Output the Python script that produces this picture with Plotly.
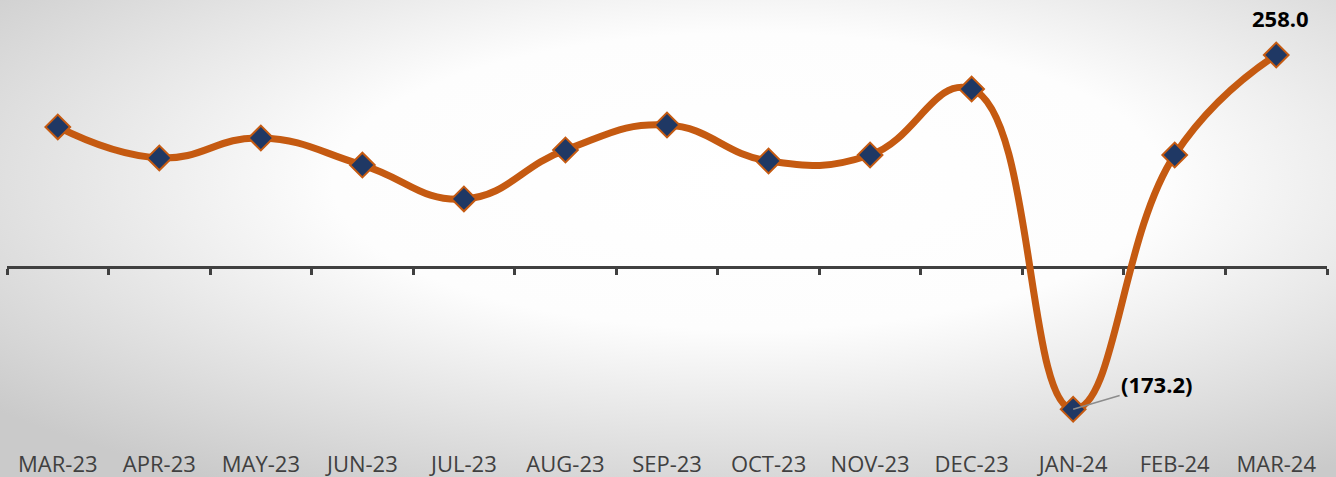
import base64
import plotly.graph_objects as go

categories = ["MAR-23", "APR-23", "MAY-23", "JUN-23", "JUL-23", "AUG-23", "SEP-23",
              "OCT-23", "NOV-23", "DEC-23", "JAN-24", "FEB-24", "MAR-24"]
values = [170.4, 132.7, 157.0, 124.1, 82.8, 142.4, 172.8, 129.0, 136.3, 216.6, -173.2, 136.3, 258.0]
labelled = {10: "(173.2)", 12: "258.0"}

W, H = 1336, 477
ML, MR, MT, MB = 7, 9, 8, 28
plot_w = W - ML - MR
plot_h = H - MT - MB
zero_px = 267
ppu = 212 / 258.0
ymax = (zero_px - MT) / ppu
ymin = -((H - MB) - zero_px) / ppu

xs = list(range(len(categories)))

svg = ('<svg xmlns="http://www.w3.org/2000/svg" width="1336" height="477" preserveAspectRatio="none">'
       '<defs><radialGradient id="g" cx="0.56" cy="0.38" r="0.74">'
       '<stop offset="0" stop-color="#ffffff"/><stop offset="0.42" stop-color="#fdfdfd"/>'
       '<stop offset="1" stop-color="#cacaca"/></radialGradient></defs>'
       '<rect width="1336" height="477" fill="url(#g)"/></svg>')
bg = "data:image/svg+xml;base64," + base64.b64encode(svg.encode()).decode()

fig = go.Figure()
fig.add_trace(go.Scatter(
    x=xs, y=values, mode="lines+markers",
    line=dict(color="#C55A11", width=7, shape="spline", smoothing=1.3),
    marker=dict(symbol="diamond", size=19, color="#1F3864",
                line=dict(color="#C55A11", width=2)),
    hoverinfo="skip", showlegend=False))
fig.add_trace(go.Scatter(
    x=xs, y=values, mode="lines", xaxis="x2",
    line=dict(color="rgba(0,0,0,0)", width=0), hoverinfo="skip", showlegend=False))

zero_pos = (0 - ymin) / (ymax - ymin)

fig.update_layout(
    width=W, height=H,
    margin=dict(l=ML, r=MR, t=MT, b=MB, autoexpand=False),
    paper_bgcolor="rgba(0,0,0,0)", plot_bgcolor="rgba(0,0,0,0)",
    font=dict(family="Open Sans, sans-serif"),
    xaxis=dict(range=[-0.5, len(categories) - 0.5], tickmode="array", tickvals=xs,
               ticktext=categories, showgrid=False, zeroline=False, showline=False,
               ticks="", tickfont=dict(size=22, color="#404040"), fixedrange=True,
               automargin=False),
    xaxis2=dict(range=[-0.5, len(categories) - 0.5], overlaying="x", anchor="free",
                position=zero_pos, side="bottom", showline=True, linecolor="#404040",
                linewidth=3, ticks="outside", ticklen=6, tickwidth=3, tickcolor="#404040",
                tickmode="array", tickvals=[i - 0.5 for i in range(len(categories) + 1)],
                showticklabels=False, showgrid=False, zeroline=False, layer="below traces",
                automargin=False),
    yaxis=dict(range=[ymin, ymax], visible=False, showgrid=False, zeroline=False,
               automargin=False),
    images=[dict(source=bg, xref="paper", yref="paper", x=-ML / plot_w, y=1 + MT / plot_h,
                 sizex=W / plot_w, sizey=H / plot_h, xanchor="left", yanchor="top",
                 sizing="stretch", layer="below")],
)

fig.add_annotation(x=12, y=values[12], text="<b>" + labelled[12] + "</b>", showarrow=False,
                   yshift=37, xshift=4, font=dict(size=22, color="#000000"))
fig.add_annotation(x=10, y=values[10], text="<b>" + labelled[10] + "</b>", showarrow=True,
                   arrowhead=0, arrowwidth=1.5, arrowcolor="#8c8c8c", ax=84, ay=-25,
                   font=dict(size=22, color="#000000"))

fig.write_html("out.html", config={"displayModeBar": False},
               post_script="document.body.style.margin='0';")
